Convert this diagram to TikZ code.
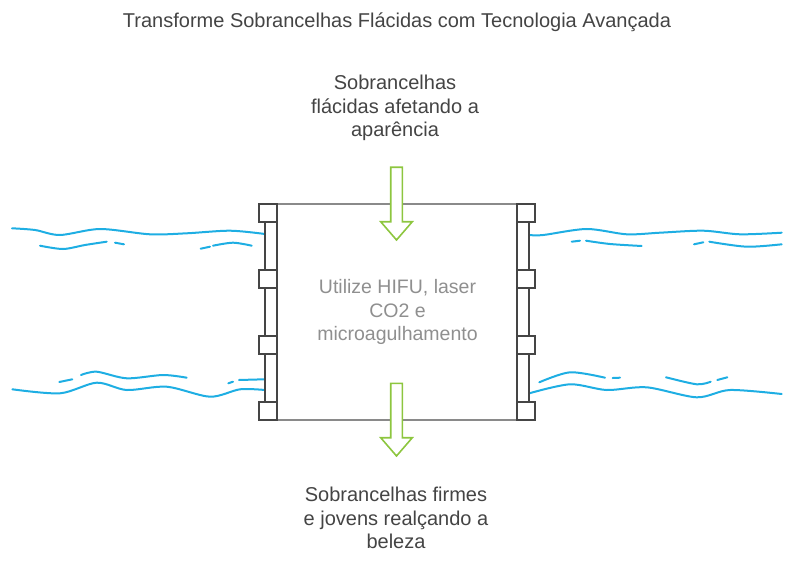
\documentclass[tikz,border=0pt]{standalone}
\usepackage{fontspec}
\setmainfont{Liberation Sans}
\definecolor{txt}{HTML}{444444}
\definecolor{midtxt}{HTML}{8F8F8F}
\definecolor{wave}{HTML}{1EAEE3}
\definecolor{pillar}{HTML}{454545}
\definecolor{boxline}{HTML}{8A8A8A}
\definecolor{arrowgreen}{HTML}{8DC63F}
\tikzset{
  wavy/.style={draw=wave, line width=2pt, line cap=round},
  pillarbox/.style={draw=pillar, fill=white, line width=2pt},
  edgeline/.style={draw=boxline, line width=2pt},
  flowarrow/.style={draw=arrowgreen, fill=white, line width=1.6pt, line join=miter},
  label/.style={text=txt, align=center, font=\fontsize{20}{23.3}\selectfont},
}
\begin{document}
\begin{tikzpicture}[x=1pt,y=-1pt]
\useasboundingbox (0,0) rectangle (794,564);

% title
\node[label, font=\fontsize{20}{23}\selectfont] (title) at (397,22) {Transforme Sobrancelhas Flácidas com Tecnologia Avançada};

% waves left
\draw[wavy] plot[smooth] coordinates {(12,228.3) (35,230) (60,235) (100,229) (150,234.3) (186.7,233.3) (230,230.7) (265,234)};
\draw[wavy] plot[smooth] coordinates {(40,245.7) (63,249) (85,245) (106.7,241.7)};
\draw[wavy] (115,242.7) -- (124,244.3);
\draw[wavy] (200.7,248.7) -- (210,246.7);
\draw[wavy] plot[smooth] coordinates {(213,245.7) (233,242.7) (251.7,245.7)};

\draw[wavy] (59.3,382) -- (72.3,379.3);
\draw[wavy] plot[smooth] coordinates {(81,375) (96.7,371.7) (126.7,378.3) (163,375) (186.7,377.7)};
\draw[wavy] (228.3,383.3) -- (233,381.7);
\draw[wavy] (239,380) -- (264.3,379.3);
\draw[wavy] plot[smooth] coordinates {(12.3,389.3) (60,393.3) (96.7,382.7) (126.7,390) (166.7,386.7) (210,396.7) (240,389.3) (265,390)};

% waves right
\draw[wavy] plot[smooth] coordinates {(529.3,235) (543.3,235) (586.7,229) (626.7,234.3) (660,232.7) (703.3,230.7) (740,234.3) (781.7,232.7)};
\draw[wavy] (571.7,241.7) -- (580,240.7);
\draw[wavy] plot[smooth] coordinates {(586,240.7) (610,244) (641.7,246)};
\draw[wavy] (694,244.3) -- (703.3,242.3);
\draw[wavy] plot[smooth] coordinates {(709.3,241.7) (746.7,246.7) (781.7,244.3)};

\draw[wavy] plot[smooth] coordinates {(539.3,382.3) (570,372.3) (605,377.7)};
\draw[wavy] (612.7,378) -- (620,377.7);
\draw[wavy] plot[smooth] coordinates {(666,377.3) (696.7,384.3) (710.7,381.7)};
\draw[wavy] (717.3,380) -- (727.3,377.3);
\draw[wavy] plot[smooth] coordinates {(529.3,393.3) (570,384.3) (606.7,390) (646.7,387.3) (696.7,397.3) (730,390) (781.7,394)};

% box edges
\coordinate (tl) at (277,204);
\coordinate (tr) at (517,204);
\coordinate (bl) at (277,420);
\coordinate (br) at (517,420);
\draw[edgeline] (tl) -- (tr);
\draw[edgeline] (bl) -- (br);

% left pillar
\draw[pillarbox] (265,213) rectangle (277,411);
\foreach \y in {204,270,336,402} {
  \draw[pillarbox] (259,\y) rectangle (277,\y+18);
}
% right pillar
\draw[pillarbox] (517,213) rectangle (529.3,411);
\foreach \y in {204,270,336,402} {
  \draw[pillarbox] (517,\y) rectangle (535,\y+18);
}

% arrows
\draw[flowarrow] (390.7,167.3) -- (402.3,167.3) -- (402.3,221.7) -- (412.3,221.7) -- (396.5,240) -- (380.7,221.7) -- (390.7,221.7) -- cycle;
\draw[flowarrow] (390.7,383.3) -- (402.3,383.3) -- (402.3,437.7) -- (412.3,437.7) -- (396.5,456) -- (380.7,437.7) -- (390.7,437.7) -- cycle;

% labels
\node[label] (input) at (395,108) {Sobrancelhas\\flácidas afetando a\\aparência};
\node[label, text=midtxt, font=\fontsize{19.5}{23.3}\selectfont] (process) at (397.5,312) {Utilize HIFU, laser\\CO2 e\\microagulhamento};
\node[label] (output) at (396,518) {Sobrancelhas firmes\\e jovens realçando a\\beleza};
\end{tikzpicture}
\end{document}
